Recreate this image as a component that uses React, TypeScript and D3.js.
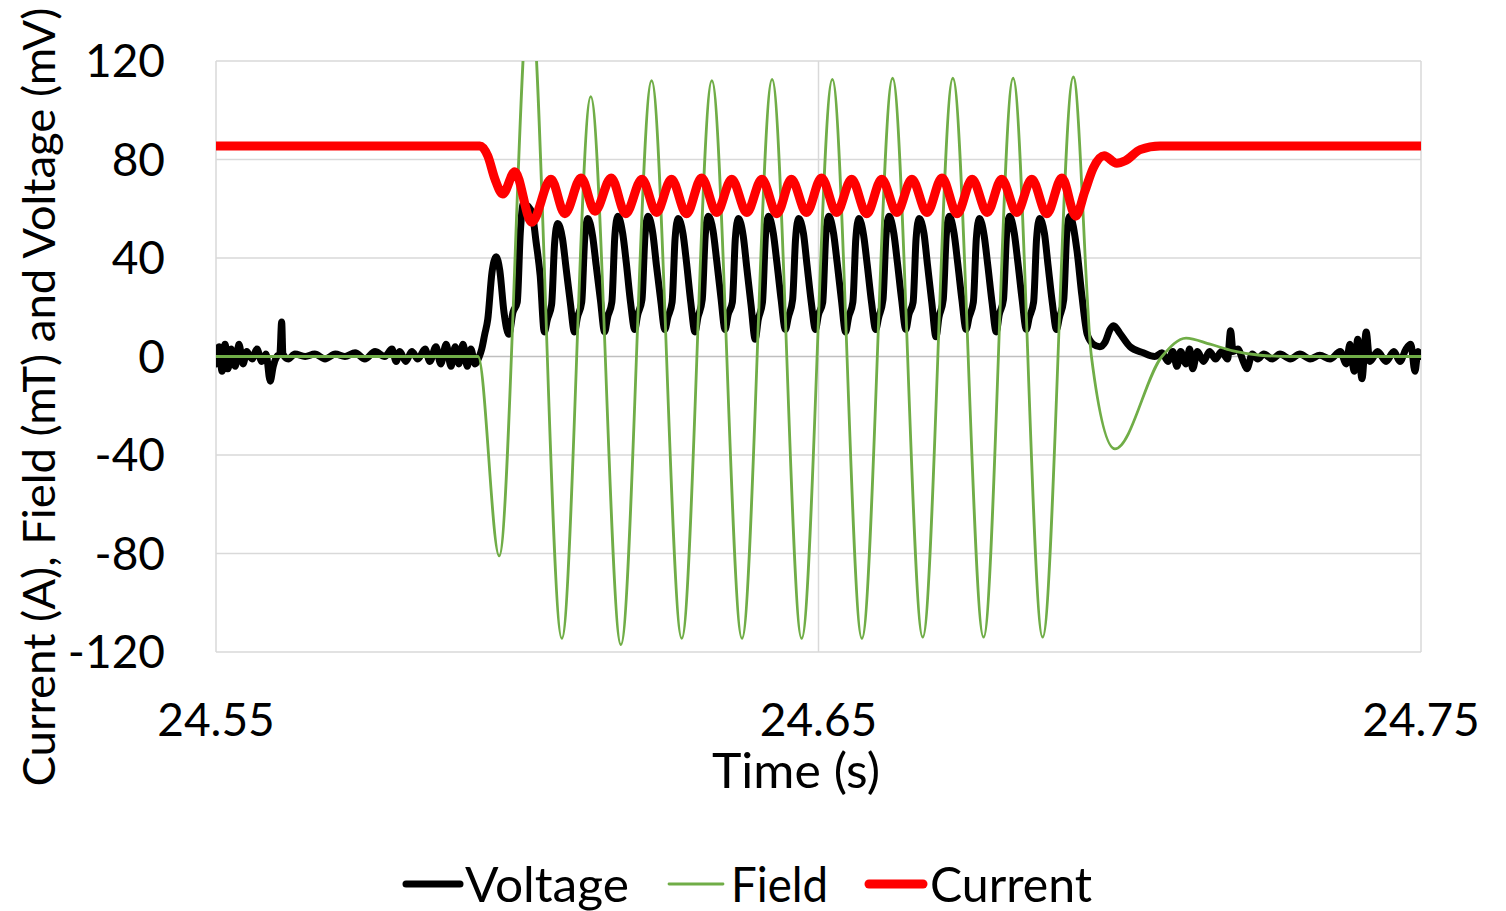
import React from 'react';
import * as d3 from 'd3';

type Pt = [number, number];

// axis ticks
const xTicks = [24.55, 24.65, 24.75];
const yTicks = [-120, -80, -40, 0, 40, 80, 120];

// Voltage (mV) vs time (s)
const voltage: Pt[] = [
  [24.55, -3], [24.5505, 4], [24.551, -6], [24.5515, 5], [24.552, -5], [24.5525, 3], [24.5532, -4], [24.5538, 5],
  [24.5545, -3], [24.5551, 2], [24.556, -1], [24.5568, 3], [24.5576, -2], [24.5583, 1], [24.559, -10], [24.5595, -4],
  [24.5601, 0], [24.5606, 1], [24.5609, 14], [24.5611, 1], [24.562, -1], [24.5631, 1], [24.5648, 0], [24.5664, 1],
  [24.5681, -1], [24.5698, 1], [24.5714, 0], [24.5731, 1.5], [24.5747, -1], [24.5764, 2], [24.578, 0], [24.5792, 3],
  [24.5799, -2], [24.5805, 2], [24.5815, -2], [24.5825, 2], [24.5835, -1], [24.5847, 3], [24.5855, -2], [24.5865, 4],
  [24.5873, -3], [24.5882, 5], [24.589, -4], [24.5897, 4], [24.5903, -3], [24.591, 5], [24.5917, -4], [24.5923, 3],
  [24.593, -3], [24.5937, 0],
  // first bursts
  [24.5941, 3], [24.5946, 9], [24.5951, 15], [24.5958, 34], [24.5965, 40.5], [24.5971, 35], [24.5978, 18], [24.5986, 9],
  [24.5993, 18], [24.6, 22], [24.6005, 50], [24.601, 62], [24.6018, 61], [24.6025, 58], [24.6031, 47], [24.6038, 33],
  // steady pulses
  [24.6045, 10], [24.605, 15], [24.6057, 21], [24.6062, 46], [24.6067, 54], [24.6075, 48], [24.6081, 36], [24.6088, 22],
  [24.6095, 10], [24.61, 16], [24.6107, 22], [24.6112, 48], [24.6117, 56], [24.6125, 49], [24.6131, 37], [24.6138, 23],
  [24.6145, 10], [24.615, 16], [24.6157, 22], [24.6162, 49], [24.6167, 57], [24.6175, 50], [24.6181, 38], [24.6188, 22],
  [24.6195, 11], [24.62, 17], [24.6207, 23], [24.6212, 49], [24.6217, 57], [24.6225, 50], [24.6231, 37], [24.6238, 23],
  [24.6245, 11], [24.625, 16], [24.6257, 22], [24.6262, 48], [24.6267, 56], [24.6275, 50], [24.6281, 38], [24.6288, 22],
  [24.6295, 10], [24.63, 16], [24.6307, 23], [24.6312, 49], [24.6317, 57], [24.6325, 51], [24.6331, 39], [24.6338, 24],
  [24.6345, 11], [24.635, 17], [24.6357, 22], [24.6362, 48], [24.6367, 56], [24.6375, 49], [24.6381, 36], [24.6388, 21],
  [24.6395, 7], [24.64, 15], [24.6407, 22], [24.6412, 49], [24.6417, 57], [24.6425, 50], [24.6431, 38], [24.6438, 23],
  [24.6445, 11], [24.645, 16], [24.6457, 23], [24.6462, 48], [24.6467, 56], [24.6475, 50], [24.6481, 37], [24.6488, 22],
  [24.6495, 11], [24.65, 17], [24.6507, 22], [24.6512, 49], [24.6517, 57], [24.6525, 50], [24.6531, 38], [24.6538, 23],
  [24.6545, 10], [24.655, 16], [24.6557, 22], [24.6562, 48], [24.6567, 56], [24.6575, 49], [24.6581, 37], [24.6588, 22],
  [24.6595, 11], [24.66, 16], [24.6607, 23], [24.6612, 49], [24.6617, 57], [24.6625, 50], [24.6631, 38], [24.6638, 23],
  [24.6645, 11], [24.665, 17], [24.6657, 22], [24.6662, 48], [24.6667, 56], [24.6675, 50], [24.6681, 37], [24.6688, 22],
  [24.6695, 8], [24.67, 16], [24.6707, 23], [24.6712, 49], [24.6717, 57], [24.6725, 50], [24.6731, 38], [24.6738, 23],
  [24.6745, 11], [24.675, 16], [24.6757, 22], [24.6762, 48], [24.6767, 56], [24.6775, 49], [24.6781, 37], [24.6788, 22],
  [24.6795, 10], [24.68, 17], [24.6807, 23], [24.6812, 49], [24.6817, 57], [24.6825, 50], [24.6831, 38], [24.6838, 23],
  [24.6845, 11], [24.685, 16], [24.6857, 22], [24.6862, 48], [24.6867, 56], [24.6875, 50], [24.6881, 37], [24.6888, 22],
  [24.6895, 11], [24.69, 16], [24.6907, 23], [24.6912, 50], [24.6917, 57],
  // tail
  [24.6929, 43], [24.6937, 25], [24.6946, 9], [24.6956, 5], [24.6967, 4], [24.6976, 6], [24.6984, 11], [24.699, 12.5],
  [24.7, 9.5], [24.7017, 4], [24.7039, 1.5], [24.7058, 0], [24.707, 1.5], [24.708, -2], [24.7088, 2], [24.7095, -4],
  [24.7101, 2], [24.711, -3], [24.7116, 3], [24.7121, -5], [24.7129, 2], [24.7139, -2], [24.7149, 2], [24.7159, -1],
  [24.7169, 2], [24.7179, -1], [24.7184, 10.5], [24.7188, 2], [24.7196, 3], [24.7205, -2], [24.7211, -5], [24.722, 1],
  [24.7229, -1], [24.7239, 1], [24.7253, -1], [24.7266, 1], [24.7283, -1], [24.7299, 1], [24.7316, -1], [24.7332, 0.5],
  [24.7349, -1], [24.7366, 2], [24.7376, -3], [24.7382, 5], [24.7389, -6], [24.7395, 7], [24.7402, -9], [24.7409, 10],
  [24.7415, -2], [24.7428, 2], [24.7442, -2], [24.7455, 2], [24.7465, -2], [24.7475, 3], [24.7483, 5], [24.749, -6],
  [24.7495, 2], [24.75, 0],
];

// Field (mT): extremes of the oscillation
const field: Pt[] = [
  [24.55, 0], [24.57, 0], [24.5935, 0], [24.597, -81], [24.6021, 150], [24.6074, -114.5], [24.6122, 105.5],
  [24.6172, -117], [24.6223, 112], [24.6273, -114.5], [24.6323, 112], [24.6373, -114.5], [24.6423, 112.5],
  [24.6472, -114.5], [24.6523, 112.5], [24.6572, -114.5], [24.6623, 113], [24.6673, -114], [24.6723, 113],
  [24.6774, -114], [24.6823, 113], [24.6872, -114], [24.6923, 113.5], [24.6953, 0], [24.6992, -37.5],
  [24.707, 0], [24.711, 7.5], [24.715, 5], [24.7188, 2.3], [24.7233, 0.5], [24.7283, 0], [24.75, 0],
];

// Current (A)
const current: Pt[] = [
  [24.55, 85.5], [24.5938, 85.5], [24.5951, 81.5], [24.5963, 72], [24.5976, 66], [24.5996, 75], [24.6024, 54.5],
  [24.6056, 72], [24.6079, 58], [24.6106, 72.5], [24.6129, 59], [24.6156, 72.5], [24.618, 58], [24.6207, 72],
  [24.6231, 58.5], [24.6256, 72], [24.6281, 58], [24.6306, 72.5], [24.6331, 58.5], [24.6356, 72], [24.6381, 58.5],
  [24.6406, 72], [24.6431, 58], [24.6455, 72], [24.648, 58.5], [24.6505, 72.5], [24.653, 58.5], [24.6555, 72],
  [24.658, 58], [24.6605, 72], [24.663, 58.5], [24.6655, 72], [24.668, 58.5], [24.6705, 72.5], [24.673, 58],
  [24.6755, 72], [24.678, 58.5], [24.6804, 72], [24.6829, 58.5], [24.6854, 72], [24.6879, 58], [24.6904, 72.5],
  [24.6927, 57], [24.6942, 67], [24.6956, 76.5], [24.6974, 81.5], [24.6995, 78.5], [24.7009, 79.5], [24.7034, 84],
  [24.7067, 85.5], [24.75, 85.5],
];

const seriesNames = ['Voltage', 'Field', 'Current'];
const seriesColors = ['#000000', '#70AD47', '#FF0000'];
const seriesWidths = [7, 2.8, 9];

const FONT = 'Lato, "Open Sans", sans-serif';

export default function App() {
  React.useEffect(() => {
    document.body.style.margin = '0';
  }, []);

  const width = 1506;
  const height = 911;
  const margin = { top: 61, right: 85, bottom: 259, left: 216 };
  const innerW = width - margin.left - margin.right;
  const innerH = height - margin.top - margin.bottom;

  const x = d3.scaleLinear().domain([24.55, 24.75]).range([margin.left, margin.left + innerW]);
  const y = d3.scaleLinear().domain([-120, 120]).range([margin.top + innerH, margin.top]);

  const line = d3.line<Pt>()
    .x(d => x(d[0]))
    .y(d => y(d[1]))
    .curve(d3.curveMonotoneX);

  const series = [voltage, field, current];

  // legend layout (line start, text start)
  const legendLine = [406, 669, 869];
  const legendText = [465, 731, 930];
  const legendLen = [164, 97, 162];
  const legendY = 884;

  return (
    <svg width={width} height={height} style={{ display: 'block', background: '#fff' }} fontFamily={FONT}>
      <defs>
        <clipPath id="plotClip">
          <rect x={margin.left} y={margin.top} width={innerW} height={innerH} />
        </clipPath>
      </defs>

      {/* gridlines */}
      {yTicks.map(v => (
        <line key={'gy' + v} x1={margin.left} x2={margin.left + innerW} y1={y(v)} y2={y(v)}
          stroke={v === 0 ? '#BFBFBF' : '#D9D9D9'} strokeWidth={1.5} />
      ))}
      {xTicks.map(v => (
        <line key={'gx' + v} x1={x(v)} x2={x(v)} y1={margin.top} y2={margin.top + innerH}
          stroke="#D9D9D9" strokeWidth={1.5} />
      ))}

      {/* series */}
      <g clipPath="url(#plotClip)">
        {series.map((s, i) => (
          <path key={seriesNames[i]} d={line(s) || ''} fill="none" stroke={seriesColors[i]}
            strokeWidth={seriesWidths[i]} strokeLinejoin="round" strokeLinecap="round" />
        ))}
      </g>

      {/* y tick labels */}
      {yTicks.map(v => (
        <text key={'ty' + v} x={165} y={y(v)} dy="0.35em" textAnchor="end" fontSize={46} fill="#000">
          {String(v)}
        </text>
      ))}
      {/* x tick labels */}
      {xTicks.map(v => (
        <text key={'tx' + v} x={x(v)} y={736} textAnchor="middle" fontSize={46} fill="#000">
          {d3.format('.2f')(v)}
        </text>
      ))}

      {/* axis titles */}
      <text x={796} y={788} textAnchor="middle" fontSize={48} textLength={168} lengthAdjust="spacingAndGlyphs">
        Time (s)
      </text>
      <text transform="translate(55,397) rotate(-90)" textAnchor="middle" fontSize={45}
        textLength={779} lengthAdjust="spacingAndGlyphs">
        Current (A), Field (mT) and Voltage (mV)
      </text>

      {/* legend */}
      {seriesNames.map((name, i) => (
        <g key={'lg' + name}>
          <line x1={legendLine[i]} x2={legendLine[i] + 54} y1={legendY} y2={legendY}
            stroke={seriesColors[i]} strokeWidth={seriesWidths[i]} strokeLinecap="round" />
          <text x={legendText[i]} y={902} fontSize={48} textLength={legendLen[i]} lengthAdjust="spacingAndGlyphs">
            {name}
          </text>
        </g>
      ))}
    </svg>
  );
}
